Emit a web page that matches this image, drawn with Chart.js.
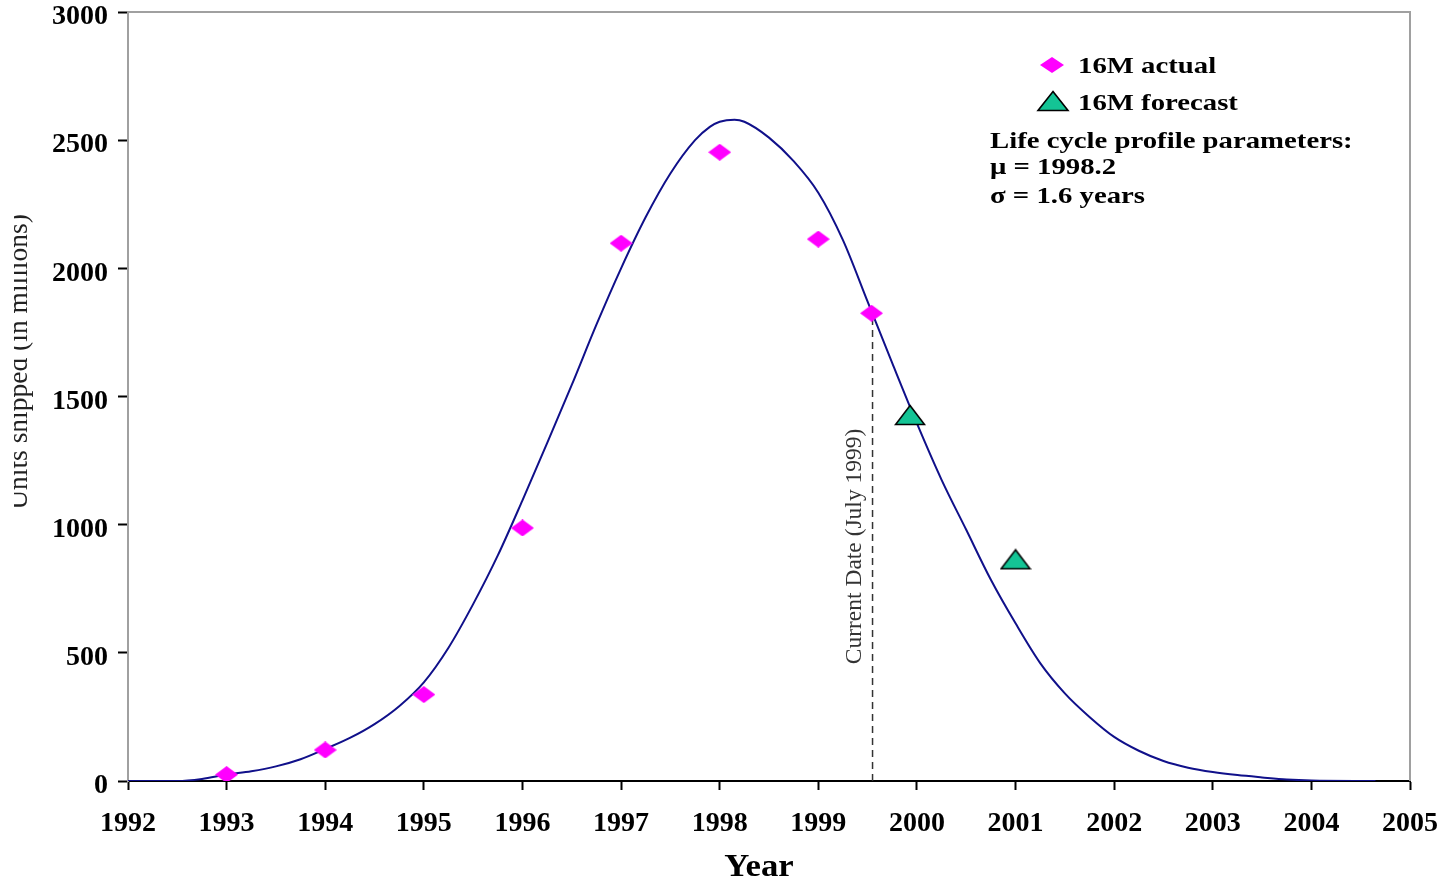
<!DOCTYPE html>
<html>
<head>
<meta charset="utf-8">
<title>16M life cycle profile</title>
<script src="https://cdn.jsdelivr.net/npm/chart.js@4.4.1/dist/chart.umd.min.js"></script>
<style>
  html, body { margin: 0; padding: 0; background: #fff; }
  #wrap { width: 1449px; height: 880px; position: relative; }
</style>
</head>
<body>
<div id="wrap"><canvas id="lifeChart" width="1449" height="880"></canvas></div>
<script>
// fitted life cycle curve
const curveYears = [1992, 1992.5, 1992.75, 1993, 1993.25, 1993.5, 1993.75, 1994, 1994.25, 1994.5,
  1994.75, 1995, 1995.25, 1995.5, 1995.75, 1996, 1996.25, 1996.5, 1996.75, 1997,
  1997.25, 1997.5, 1997.75, 1997.9, 1998, 1998.15, 1998.25, 1998.5, 1998.75, 1999, 1999.25,
  1999.5, 1999.75, 2000, 2000.25, 2000.5, 2000.75, 2001, 2001.25, 2001.5, 2001.75,
  2002, 2002.25, 2002.5, 2002.75, 2003, 2003.25, 2003.5, 2003.75, 2004, 2004.65];
const curveUnits = [0, 0, 8, 25, 38, 57, 85, 125, 168, 222,
  292, 385, 520, 690, 880, 1095, 1318, 1545, 1780, 2000,
  2200, 2370, 2500, 2552, 2572, 2580, 2572, 2510, 2418, 2295, 2110,
  1870, 1630, 1395, 1175, 980, 785, 615, 460, 342, 250,
  172, 118, 78, 52, 35, 23, 14, 6, 2, 0];

const actualYears = [1993, 1994, 1995, 1996, 1997, 1998, 1999, 1999.54];
const actualUnits = [25, 121, 337, 987, 2098, 2453, 2114, 1825];

const forecastYears = [1999.93, 2001];
const forecastUnits = [1428, 865];

const currentDate = 1999.55;
const currentDateTop = 1800;

const xTicks = [1992, 1993, 1994, 1995, 1996, 1997, 1998, 1999, 2000, 2001, 2002, 2003, 2004, 2005];
const yTicks = [0, 500, 1000, 1500, 2000, 2500, 3000];

const toPoints = (xs, ys) => xs.map((x, i) => ({ x: x, y: ys[i] }));

const serif = '"Liberation Serif", "Times New Roman", serif';
const pink = '#ff00ff';
const teal = '#14c495';

// marker shapes: wide diamond and wide triangle
function diamondPath(ctx, cx, cy, w, h) {
  ctx.beginPath();
  ctx.moveTo(cx, cy - h / 2);
  ctx.lineTo(cx + w / 2, cy);
  ctx.lineTo(cx, cy + h / 2);
  ctx.lineTo(cx - w / 2, cy);
  ctx.closePath();
}
function trianglePath(ctx, cx, cy, w, h) {
  ctx.beginPath();
  ctx.moveTo(cx, cy - h / 2);
  ctx.lineTo(cx + w / 2, cy + h / 2);
  ctx.lineTo(cx - w / 2, cy + h / 2);
  ctx.closePath();
}
function makeDiamond() {
  const c = document.createElement('canvas');
  c.width = 23; c.height = 17;
  const g = c.getContext('2d');
  g.fillStyle = pink;
  diamondPath(g, 11.5, 8.5, 23, 17);
  g.fill();
  return c;
}
function makeTriangle() {
  const c = document.createElement('canvas');
  c.width = 32; c.height = 22;
  const g = c.getContext('2d');
  g.fillStyle = teal;
  g.strokeStyle = '#000';
  g.lineWidth = 1.6;
  trianglePath(g, 16, 11, 29, 19);
  g.fill();
  g.stroke();
  return c;
}

const extras = {
  id: 'extras',
  afterDraw(chart) {
    const ctx = chart.ctx;
    const area = chart.chartArea;
    const xs = chart.scales.x;
    const ys = chart.scales.y;
    ctx.save();

    // frame top and right
    ctx.strokeStyle = '#a0a0a0';
    ctx.lineWidth = 2;
    ctx.beginPath();
    ctx.moveTo(area.left, area.top);
    ctx.lineTo(area.right, area.top);
    ctx.lineTo(area.right, area.bottom);
    ctx.stroke();

    // current date label
    ctx.save();
    ctx.translate(xs.getPixelForValue(currentDate) - 12, ys.getPixelForValue(915));
    ctx.rotate(-Math.PI / 2);
    ctx.fillStyle = '#333';
    ctx.font = '23.5px ' + serif;
    ctx.textAlign = 'center';
    ctx.textBaseline = 'alphabetic';
    ctx.fillText('Current Date (July 1999)', 0, 0);
    ctx.restore();

    // y axis title, clipped at the left like the source
    ctx.save();
    ctx.beginPath();
    ctx.rect(14, 0, 200, chart.height);
    ctx.clip();
    ctx.translate(27, 362);
    ctx.rotate(-Math.PI / 2);
    ctx.fillStyle = '#222';
    ctx.font = '27.5px ' + serif;
    ctx.textAlign = 'center';
    ctx.fillText('Units shipped (in millions)', 0, 0);
    ctx.restore();

    // x axis title
    ctx.save();
    ctx.translate(759, 868);
    ctx.scale(1.12, 1);
    ctx.fillStyle = '#000';
    ctx.font = 'bold 31px ' + serif;
    ctx.textAlign = 'center';
    ctx.textBaseline = 'middle';
    ctx.fillText('Year', 0, 0);
    ctx.restore();

    // legend
    const actual = chart.data.datasets[0];
    const forecast = chart.data.datasets[1];

    ctx.fillStyle = pink;
    diamondPath(ctx, 1052, 65, 24, 16);
    ctx.fill();

    ctx.fillStyle = teal;
    ctx.strokeStyle = '#000';
    ctx.lineWidth = 1.6;
    trianglePath(ctx, 1053, 101, 30, 19);
    ctx.fill();
    ctx.stroke();

    const lines = [
      [actual.label, 1078, 67],
      [forecast.label, 1078, 104],
      ['Life cycle profile parameters:', 990, 142],
      ['\u03BC = 1998.2', 990, 168],
      ['\u03C3 = 1.6 years', 990, 197]
    ];
    ctx.fillStyle = '#000';
    ctx.font = 'bold 23px ' + serif;
    ctx.textAlign = 'left';
    ctx.textBaseline = 'middle';
    lines.forEach(([t, x, y]) => {
      ctx.save();
      ctx.translate(x, y);
      ctx.scale(1.25, 1);
      ctx.fillText(t, 0, 0);
      ctx.restore();
    });

    ctx.restore();
  }
};

new Chart(document.getElementById('lifeChart'), {
  type: 'scatter',
  data: {
    datasets: [
      {
        label: '16M actual',
        data: toPoints(actualYears, actualUnits),
        pointStyle: makeDiamond(),
        backgroundColor: pink,
        borderColor: pink
      },
      {
        label: '16M forecast',
        data: toPoints(forecastYears, forecastUnits),
        pointStyle: makeTriangle(),
        backgroundColor: teal,
        borderColor: '#000'
      },
      {
        label: 'Current date',
        data: [{ x: currentDate, y: 0 }, { x: currentDate, y: currentDateTop }],
        showLine: true,
        borderColor: '#333',
        borderWidth: 1.5,
        borderDash: [7, 5],
        pointRadius: 0
      },
      {
        label: 'Life cycle profile',
        data: toPoints(curveYears, curveUnits),
        showLine: true,
        borderColor: '#10108a',
        borderWidth: 2,
        cubicInterpolationMode: 'monotone',
        pointRadius: 0
      }
    ]
  },
  options: {
    responsive: false,
    animation: false,
    layout: { padding: { left: 0, top: 12, right: 39, bottom: 0 } },
    plugins: {
      legend: { display: false },
      tooltip: { enabled: false }
    },
    scales: {
      x: {
        type: 'linear',
        min: 1992,
        max: 2005,
        afterBuildTicks: s => { s.ticks = xTicks.map(v => ({ value: v })); },
        afterFit: s => { s.height = 99; s.paddingLeft = 0; s.paddingRight = 0; },
        ticks: {
          callback: v => String(v),
          color: '#000',
          font: { family: serif, size: 28, weight: 'bold' },
          padding: 17,
          maxRotation: 0
        },
        grid: { drawOnChartArea: false, drawTicks: true, tickLength: 9, tickColor: '#000', tickWidth: 2 },
        border: { color: '#000', width: 2 }
      },
      y: {
        min: 0,
        max: 3000,
        afterBuildTicks: s => { s.ticks = yTicks.map(v => ({ value: v })); },
        afterFit: s => { s.width = 128; s.paddingTop = 0; s.paddingBottom = 0; },
        ticks: {
          callback: v => String(v),
          color: '#000',
          font: { family: serif, size: 28, weight: 'bold' },
          padding: 10,
          labelOffset: 5
        },
        grid: { drawOnChartArea: false, drawTicks: true, tickLength: 10, tickColor: '#000', tickWidth: 2 },
        border: { color: '#a0a0a0', width: 2 }
      }
    }
  },
  plugins: [extras]
});
</script>
</body>
</html>
